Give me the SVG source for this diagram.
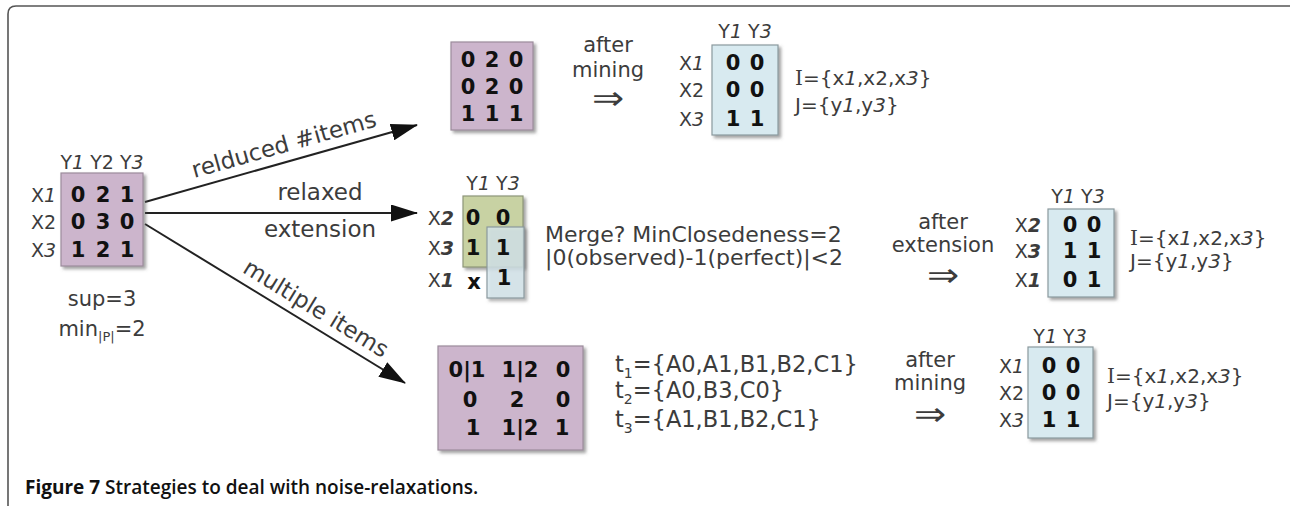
<svg xmlns="http://www.w3.org/2000/svg" width="1291" height="508" viewBox="0 0 1291 508">
<defs>
<filter id="sh" x="-20%" y="-20%" width="140%" height="140%"><feDropShadow dx="2.5" dy="2.5" stdDeviation="1.5" flood-color="#555" flood-opacity="0.55"/></filter>
<marker id="ah" markerUnits="userSpaceOnUse" markerWidth="27" markerHeight="17" refX="26" refY="8.5" orient="auto"><path d="M0,0 L27,8.5 L0,17 z" fill="#111"/></marker>
<style>
text{font-family:"DejaVu Sans",Verdana,sans-serif;fill:#3c3c3c}
.lbl{font-size:19px}
.num{font-size:21px;font-weight:bold;fill:#111;text-anchor:middle}
.arr{font-size:23px}
.mid{text-anchor:middle}
.end{text-anchor:end}
.it{font-style:italic}
.bi{font-style:italic;font-weight:bold}
.set{font-size:20px}
.pur{fill:#ccb5cc;stroke:#9b8c9b;stroke-width:1.2}
.blu{fill:#d8eaf0;stroke:#8b999e;stroke-width:1.2}
.grn{fill:#c8d2a3;stroke:#8e9679;stroke-width:1.2}
.conn{stroke:#222;stroke-width:2;fill:none;marker-end:url(#ah)}
.dbl{font-size:32px}
.cap{font-family:"Open Sans","Noto Sans",sans-serif;font-size:19px;fill:#111}
</style>
</defs>
<rect width="1291" height="508" fill="#fff"/>
<path d="M8,506 L8,14 Q8,6 16,6 L1290,6" fill="none" stroke="#555" stroke-width="1.6"/>

<g id="connectors">
<line class="conn" x1="145" y1="202" x2="417" y2="125"/>
<line class="conn" x1="145" y1="213" x2="417" y2="213"/>
<line class="conn" x1="145" y1="224" x2="405" y2="383"/>
<text class="arr mid" transform="translate(286,152) rotate(-15.8)">relduced #items</text>
<text class="arr mid" x="320" y="200">relaxed</text>
<text class="arr mid" x="320" y="237">extension</text>
<text class="arr mid" transform="translate(312,315) rotate(31.5)">multiple items</text>
</g>

<g id="left-matrix">
<rect class="pur" x="61" y="173" width="82" height="93" filter="url(#sh)"/>
<text class="lbl mid" x="102" y="169">Y<tspan class="it">1</tspan> Y2 Y<tspan class="it">3</tspan></text>
<text class="lbl end" x="56" y="202">X<tspan class="it">1</tspan></text>
<text class="lbl end" x="56" y="229">X2</text>
<text class="lbl end" x="56" y="257">X<tspan class="it">3</tspan></text>
<text class="num" x="78 103 127" y="202">021</text>
<text class="num" x="78 103 127" y="229">030</text>
<text class="num" x="78 103 127" y="257">121</text>
<text class="mid" x="102" y="306" font-size="21">sup=3</text>
<text class="mid" x="102" y="336" font-size="21">min<tspan font-size="13" dy="5">|P|</tspan><tspan dy="-5">=2</tspan></text>
</g>

<g id="top-matrix">
<rect class="pur" x="451" y="42" width="82" height="88" filter="url(#sh)"/>
<text class="num" x="468 492 516" y="67">020</text>
<text class="num" x="468 492 516" y="94">020</text>
<text class="num" x="468 492 516" y="121">111</text>
</g>

<g id="top-step">
<text class="mid" x="608" y="52" font-size="21">after</text>
<text class="mid" x="608" y="77" font-size="21">mining</text>
<text class="dbl mid" transform="translate(608,109) scale(1.2,1)">⇒</text>
</g>

<g id="top-result">
<rect class="blu" x="712" y="45" width="66" height="90" filter="url(#sh)"/>
<text class="lbl mid" x="745" y="38">Y<tspan class="it">1</tspan> Y<tspan class="it">3</tspan></text>
<text class="lbl end" x="704" y="70">X<tspan class="it">1</tspan></text>
<text class="lbl end" x="704" y="97">X2</text>
<text class="lbl end" x="704" y="126">X<tspan class="it">3</tspan></text>
<text class="num" x="733 757" y="70">00</text>
<text class="num" x="733 757" y="97">00</text>
<text class="num" x="733 757" y="126">11</text>
<text class="set" x="795" y="85"><tspan font-family="DejaVu Serif">I</tspan>={x<tspan class="it">1</tspan>,x2,x<tspan class="it">3</tspan>}</text>
<text class="set" x="795" y="112">J={y<tspan class="it">1</tspan>,y<tspan class="it">3</tspan>}</text>
</g>

<g id="mid-matrix">
<rect class="grn" x="463" y="196" width="60" height="71" filter="url(#sh)"/>
<rect class="blu" x="487" y="227" width="37" height="71" fill-opacity="0.75" filter="url(#sh)"/>
<text class="lbl mid" x="493" y="190">Y<tspan class="it">1</tspan> Y<tspan class="it">3</tspan></text>
<text class="lbl end" x="454" y="225">X<tspan class="bi">2</tspan></text>
<text class="lbl end" x="454" y="255">X<tspan class="bi">3</tspan></text>
<text class="lbl end" x="454" y="287">X<tspan class="bi">1</tspan></text>
<text class="num" x="473 503" y="225">00</text>
<text class="num" x="473 503" y="255">11</text>
<text class="num" x="474" y="289">x</text>
<text class="num" x="504" y="285">1</text>
<text x="545" y="242" font-size="22">Merge? MinClosedeness=2</text>
<text x="545" y="265" font-size="22">|0(observed)-1(perfect)|&lt;2</text>
</g>

<g id="mid-step">
<text class="mid" x="943" y="229" font-size="21">after</text>
<text class="mid" x="943" y="252" font-size="21">extension</text>
<text class="dbl mid" transform="translate(943,286) scale(1.2,1)">⇒</text>
</g>

<g id="mid-result">
<rect class="blu" x="1048" y="209" width="66" height="88" filter="url(#sh)"/>
<text class="lbl mid" x="1078" y="203">Y<tspan class="it">1</tspan> Y<tspan class="it">3</tspan></text>
<text class="lbl end" x="1041" y="232">X<tspan class="bi">2</tspan></text>
<text class="lbl end" x="1041" y="258">X<tspan class="bi">3</tspan></text>
<text class="lbl end" x="1041" y="287">X<tspan class="bi">1</tspan></text>
<text class="num" x="1070 1094" y="232">00</text>
<text class="num" x="1070 1094" y="258">11</text>
<text class="num" x="1070 1094" y="287">01</text>
<text class="set" x="1130" y="245"><tspan font-family="DejaVu Serif">I</tspan>={x<tspan class="it">1</tspan>,x2,x<tspan class="it">3</tspan>}</text>
<text class="set" x="1130" y="268">J={y<tspan class="it">1</tspan>,y<tspan class="it">3</tspan>}</text>
</g>

<g id="bottom-matrix">
<rect class="pur" x="438" y="346" width="145" height="104" filter="url(#sh)"/>
<text class="num" y="377"><tspan x="467">0|1</tspan><tspan x="520">1|2</tspan><tspan x="563">0</tspan></text>
<text class="num" y="407"><tspan x="470">0</tspan><tspan x="517">2</tspan><tspan x="563">0</tspan></text>
<text class="num" y="435"><tspan x="473">1</tspan><tspan x="520">1|2</tspan><tspan x="562">1</tspan></text>
<text x="615" y="372" font-size="22.5">t<tspan font-size="14" dy="6">1</tspan><tspan dy="-6">={A0,A1,B1,B2,C1}</tspan></text>
<text x="615" y="398" font-size="22.5">t<tspan font-size="14" dy="6">2</tspan><tspan dy="-6">={A0,B3,C0}</tspan></text>
<text x="615" y="427" font-size="22.5">t<tspan font-size="14" dy="6">3</tspan><tspan dy="-6">={A1,B1,B2,C1}</tspan></text>
</g>

<g id="bottom-step">
<text class="mid" x="930" y="367" font-size="21">after</text>
<text class="mid" x="930" y="390" font-size="21">mining</text>
<text class="dbl mid" transform="translate(930,425) scale(1.2,1)">⇒</text>
</g>

<g id="bottom-result">
<rect class="blu" x="1028" y="347" width="65" height="91" filter="url(#sh)"/>
<text class="lbl mid" x="1060" y="343">Y<tspan class="it">1</tspan> Y<tspan class="it">3</tspan></text>
<text class="lbl end" x="1024" y="373">X<tspan class="it">1</tspan></text>
<text class="lbl end" x="1024" y="400">X2</text>
<text class="lbl end" x="1024" y="427">X<tspan class="it">3</tspan></text>
<text class="num" x="1049 1073" y="373">00</text>
<text class="num" x="1049 1073" y="400">00</text>
<text class="num" x="1049 1073" y="427">11</text>
<text class="set" x="1107" y="383" font-size="21"><tspan font-family="DejaVu Serif">I</tspan>={x<tspan class="it">1</tspan>,x2,x<tspan class="it">3</tspan>}</text>
<text class="set" x="1107" y="408" font-size="21">J={y<tspan class="it">1</tspan>,y<tspan class="it">3</tspan>}</text>
</g>

<g id="caption">
<text class="cap" x="25" y="494"><tspan font-weight="bold">Figure 7</tspan><tspan font-weight="600"> Strategies to deal with noise-relaxations.</tspan></text>
</g>
</svg>
